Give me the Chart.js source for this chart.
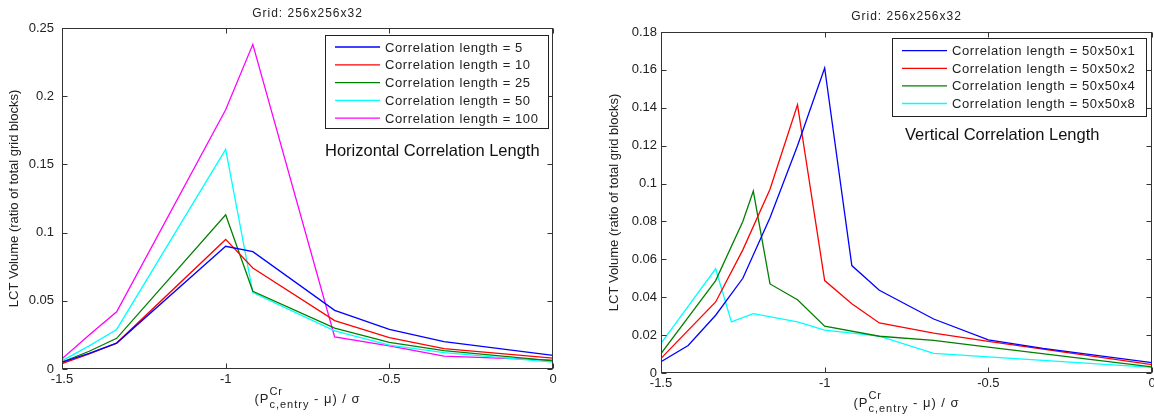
<!DOCTYPE html>
<html>
<head>
<meta charset="utf-8">
<script src="https://cdn.jsdelivr.net/npm/chart.js@4.4.1/dist/chart.umd.min.js"></script>
<style>
html, body { margin: 0; padding: 0; background: #fff; overflow: hidden; }
.box { position: absolute; top: 0; width: 577px; height: 418px; }
#leftBox { left: 0; }
#rightBox { left: 577px; }
</style>
</head>
<body>
<div class="box" id="leftBox"><canvas id="horizChart" width="577" height="418"></canvas></div>
<div class="box" id="rightBox"><canvas id="vertChart" width="577" height="418"></canvas></div>
<script>
var FONT = '"Liberation Sans", Arial, Helvetica, sans-serif';

// left panel: horizontal correlation length
var hX      = [-1.5, -1.417, -1.333, -1.0, -0.917, -0.667, -0.5, -0.333, 0];
var hLen5   = [0.005, 0.0115, 0.019, 0.090, 0.086, 0.043, 0.029, 0.020, 0.010];
var hLen10  = [0.004, 0.011, 0.019, 0.095, 0.074, 0.0355, 0.023, 0.015, 0.008];
var hLen25  = [0.005, 0.013, 0.0225, 0.113, 0.057, 0.030, 0.0195, 0.0135, 0.006];
var hLen50  = [0.006, 0.017, 0.029, 0.161, 0.056, 0.028, 0.0175, 0.012, 0.005];
var hLen100 = [0.0075, 0.025, 0.042, 0.190, 0.238, 0.0235, 0.017, 0.0095, 0.0065];
var hLabels = ['Correlation length = 5', 'Correlation length = 10', 'Correlation length = 25',
               'Correlation length = 50', 'Correlation length = 100'];

// right panel: vertical correlation length
var v1X = [-1.5, -1.417, -1.333, -1.25, -1.167, -1.083, -1.0, -0.917, -0.833, -0.667, -0.5, -0.333, 0];
var v1Y = [0.006, 0.0145, 0.0305, 0.050, 0.082, 0.120, 0.161, 0.0567, 0.0437, 0.0285, 0.0175, 0.013, 0.0055];
var v2X = [-1.5, -1.333, -1.25, -1.167, -1.083, -1.0, -0.917, -0.833, -0.667, -0.5, 0];
var v2Y = [0.0077, 0.0375, 0.065, 0.097, 0.1416, 0.0488, 0.0366, 0.0264, 0.021, 0.0167, 0.0044];
var v4X = [-1.5, -1.333, -1.25, -1.218, -1.167, -1.083, -1.0, -0.833, -0.667, -0.5, 0];
var v4Y = [0.0103, 0.0488, 0.080, 0.096, 0.047, 0.0387, 0.0247, 0.0194, 0.0172, 0.0137, 0.0032];
var v8X = [-1.5, -1.333, -1.285, -1.218, -1.083, -1.0, -0.833, -0.667, -0.5, 0];
var v8Y = [0.0156, 0.055, 0.027, 0.0313, 0.027, 0.0226, 0.0195, 0.0104, 0.0085, 0.003];
var vLabels = ['Correlation length = 50x50x1', 'Correlation length = 50x50x2',
               'Correlation length = 50x50x4', 'Correlation length = 50x50x8'];

var gridTitle = 'Grid: 256x256x32';
var yTitle = 'LCT Volume (ratio of total grid blocks)';
var colors = ['#0000ff', '#ff0000', '#008000', '#00ffff', '#ff00ff'];

function pts(xs, ys) {
    return xs.map(function (x, i) { return {x: x, y: ys[i]}; });
}

function line(label, data, color) {
    return {label: label, data: data, borderColor: color, backgroundColor: color,
            borderWidth: 1.3, pointRadius: 0, tension: 0, fill: false};
}

// matlab prints 0.2 and -1, not 0.20 and -1.0
function shortTick(v) {
    return String(Math.round(v * 1000) / 1000);
}

// matlab style box, inward ticks, title, legend box, note and x label
var matlabPlugin = {
    id: 'matlab',
    afterDraw: function (chart, args, o) {
        var ctx = chart.ctx, a = chart.chartArea;
        var xs = chart.scales.x, ys = chart.scales.y;
        ctx.save();
        ctx.strokeStyle = '#333';
        ctx.lineWidth = 1;
        var L = Math.round(a.left) + 0.5, T = Math.round(a.top) + 0.5;
        var R = Math.round(a.right) - 0.5, B = Math.round(a.bottom) - 0.5;
        ctx.strokeRect(L, T, R - L, B - T);
        ctx.beginPath();
        xs.ticks.forEach(function (t) {
            var p = Math.round(xs.getPixelForValue(t.value)) + 0.5;
            ctx.moveTo(p, B); ctx.lineTo(p, B - 5);
            ctx.moveTo(p, T); ctx.lineTo(p, T + 5);
        });
        ys.ticks.forEach(function (t) {
            var p = Math.round(ys.getPixelForValue(t.value)) + 0.5;
            ctx.moveTo(L, p); ctx.lineTo(L + 5, p);
            ctx.moveTo(R, p); ctx.lineTo(R - 5, p);
        });
        ctx.stroke();

        ctx.fillStyle = '#222';
        ctx.letterSpacing = '1px';
        ctx.textBaseline = 'middle';
        ctx.textAlign = 'center';
        ctx.font = '12px ' + FONT;
        ctx.fillText(gridTitle, (a.left + a.right) / 2, o.titleY);

        // legend box
        var lg = o.legend;
        ctx.fillStyle = '#fff';
        ctx.fillRect(lg.x, lg.y, lg.w, lg.h);
        ctx.strokeStyle = '#222';
        ctx.lineWidth = 1;
        ctx.strokeRect(lg.x + 0.5, lg.y + 0.5, lg.w, lg.h);
        ctx.textAlign = 'left';
        ctx.letterSpacing = '0.6px';
        ctx.font = '13px ' + FONT;
        chart.data.datasets.forEach(function (ds, i) {
            var yy = lg.y + lg.first + i * lg.row;
            ctx.strokeStyle = ds.borderColor;
            ctx.lineWidth = 1.3;
            ctx.beginPath();
            ctx.moveTo(lg.x + 10, yy); ctx.lineTo(lg.x + 10 + lg.lineLen, yy);
            ctx.stroke();
            ctx.fillStyle = '#222';
            ctx.fillText(ds.label, lg.x + 15 + lg.lineLen, yy + 1);
        });

        ctx.letterSpacing = '0px';
        ctx.font = '16.5px ' + FONT;
        ctx.fillStyle = '#111';
        ctx.fillText(o.note, o.noteX, o.noteY);

        // x label with super/subscript
        ctx.letterSpacing = '1px';
        ctx.textBaseline = 'alphabetic';
        var big = '13px ' + FONT, small = '11px ' + FONT;
        ctx.font = big;
        var w1 = ctx.measureText('(P').width;
        var w3 = ctx.measureText(' - \u03bc) / \u03c3').width;
        ctx.font = small;
        var wsub = Math.max(ctx.measureText('Cr').width, ctx.measureText('c,entry').width);
        var x0 = (a.left + a.right) / 2 - (w1 + wsub + w3) / 2, y0 = o.xTitleY;
        ctx.fillStyle = '#222';
        ctx.font = big;
        ctx.fillText('(P', x0, y0);
        ctx.font = small;
        ctx.fillText('Cr', x0 + w1, y0 - 8);
        ctx.fillText('c,entry', x0 + w1, y0 + 5);
        ctx.font = big;
        ctx.fillText(' - \u03bc) / \u03c3', x0 + w1 + wsub, y0);
        ctx.restore();
    }
};

function makeOptions(yMax, yStep, yWidth, xHeight, pad, yTitlePad, yTickPad, extra) {
    return {
        responsive: false,
        animation: false,
        layout: {padding: pad},
        plugins: {legend: {display: false}, tooltip: {enabled: false}, matlab: extra},
        scales: {
            x: {
                type: 'linear', min: -1.5, max: 0,
                ticks: {stepSize: 0.5, color: '#222', padding: 3, font: {family: FONT, size: 13},
                        callback: shortTick},
                grid: {display: false, drawTicks: false}, border: {display: false},
                afterFit: function (s) { s.height = xHeight; s.paddingLeft = 0; s.paddingRight = 0; }
            },
            y: {
                min: 0, max: yMax,
                ticks: {stepSize: yStep, color: '#222', padding: yTickPad, font: {family: FONT, size: 13},
                        callback: shortTick},
                grid: {display: false, drawTicks: false}, border: {display: false},
                title: {display: true, text: yTitle, color: '#222', padding: {top: yTitlePad, bottom: 0},
                        font: {family: FONT, size: 13}},
                afterFit: function (s) { s.width = yWidth; s.paddingTop = 0; s.paddingBottom = 0; }
            }
        }
    };
}

var horizChart = new Chart(document.getElementById('horizChart').getContext('2d'), {
    type: 'line',
    data: {
        datasets: [
            line(hLabels[0], pts(hX, hLen5), colors[0]),
            line(hLabels[1], pts(hX, hLen10), colors[1]),
            line(hLabels[2], pts(hX, hLen25), colors[2]),
            line(hLabels[3], pts(hX, hLen50), colors[3]),
            line(hLabels[4], pts(hX, hLen100), colors[4])
        ]
    },
    options: makeOptions(0.25, 0.05, 62, 49, {top: 28, right: 24, left: 0, bottom: 0}, 7, 8, {
        titleY: 14,
        legend: {x: 325, y: 35, w: 223, h: 93, first: 12, row: 17.8, lineLen: 45},
        note: 'Horizontal Correlation Length', noteX: 325, noteY: 151,
        xTitleY: 403
    }),
    plugins: [matlabPlugin]
});

var vertChart = new Chart(document.getElementById('vertChart').getContext('2d'), {
    type: 'line',
    data: {
        datasets: [
            line(vLabels[0], pts(v1X, v1Y), colors[0]),
            line(vLabels[1], pts(v2X, v2Y), colors[1]),
            line(vLabels[2], pts(v4X, v4Y), colors[2]),
            line(vLabels[3], pts(v8X, v8Y), colors[3])
        ]
    },
    options: makeOptions(0.18, 0.02, 84, 45, {top: 32, right: 2, left: 0, bottom: 0}, 30, 4, {
        titleY: 17,
        legend: {x: 315, y: 38, w: 254, h: 78, first: 12.7, row: 17.6, lineLen: 45},
        note: 'Vertical Correlation Length', noteX: 328, noteY: 135,
        xTitleY: 407
    }),
    plugins: [matlabPlugin]
});
</script>
</body>
</html>
